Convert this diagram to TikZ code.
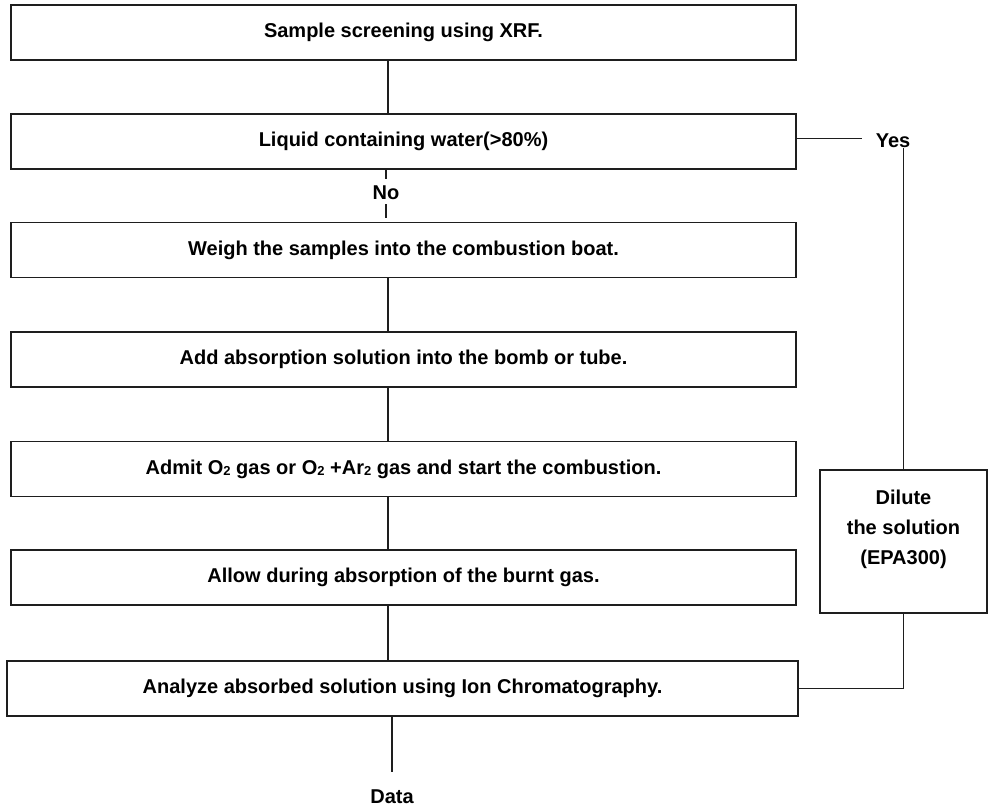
\documentclass[tikz,border=0pt]{standalone}
\usepackage{fontspec}
\setmainfont{Liberation Sans}
\definecolor{fcInk}{RGB}{30, 30, 30}
\usetikzlibrary{positioning}
\newcommand{\stepfont}{\fontsize{20}{30}\selectfont\bfseries}
\newcommand{\gsub}[1]{\raisebox{-1pt}{\fontsize{13}{13}\selectfont #1}}
\tikzset{
  stepbox/.style={rectangle, draw=fcInk, line width=1.4pt, minimum width=785pt, minimum height=55pt, inner sep=0pt, font=\stepfont, text=black},
  notebox/.style={rectangle, draw=fcInk, line width=1.4pt, minimum width=167pt, minimum height=143pt, inner sep=0pt},
  lbl/.style={inner sep=0pt, font=\stepfont, text=black},
  link/.style={draw=fcInk, line width=1.3pt},
}

\begin{document}
\begin{tikzpicture}[x=1pt, y=-1pt]
  \useasboundingbox (0,0) rectangle (989,809);
  \coordinate (spine) at (388,0);

  \node[stepbox] (screen) at (403.5,32.5) {Sample screening using XRF.};
  \node[stepbox] (liquid) at (403.5,141.5) {Liquid containing water(>80\%)};
  \node[stepbox] (weigh) at (403.5,250) {Weigh the samples into the combustion boat.};
  \node[stepbox] (addsol) at (403.5,359.5) {Add absorption solution into the bomb or tube.};
  \node[stepbox] (admit) at (403.5,469) {Admit O\gsub{2} gas or O\gsub{2} +Ar\gsub{2} gas and start the combustion.};
  \node[stepbox] (allow) at (403.5,577.5) {Allow during absorption of the burnt gas.};
  \node[stepbox, minimum width=791pt] (analyze) at (402.5,688.5) {Analyze absorbed solution using Ion Chromatography.};

  % side branch
  \node[notebox] (dilute) at (903.5,541.5) {};
  \node[lbl, align=center] (dilutetxt) at ([yshift=12pt]dilute.center) {Dilute\\the solution\\(EPA300)};
  \node[lbl] (no) at (386,193) {No};
  \node[lbl] (yes) at (893,141) {Yes};
  \node[lbl] (data) at (392,797) {Data};

  \draw[link] (screen.south -| spine) -- (liquid.north -| spine);
  \draw[link] (liquid.south -| no) -- ++(0,9);
  \draw[link] (no.south) ++(0,4) -- ++(0,14);
  \draw[link] (weigh.south -| spine) -- (addsol.north -| spine);
  \draw[link] (addsol.south -| spine) -- (admit.north -| spine);
  \draw[link] (admit.south -| spine) -- (allow.north -| spine);
  \draw[link] (allow.south -| spine) -- (analyze.north -| spine);
  \draw[link] (analyze.south -| data) -- ++(0,55);
  \draw[link] ([yshift=3pt]liquid.east) -- ++(65,0);
  \draw[link] (dilute.north) -- (dilute.north |- yes.south);
  \draw[link] (dilute.south) |- (analyze.east);
\end{tikzpicture}
\end{document}
